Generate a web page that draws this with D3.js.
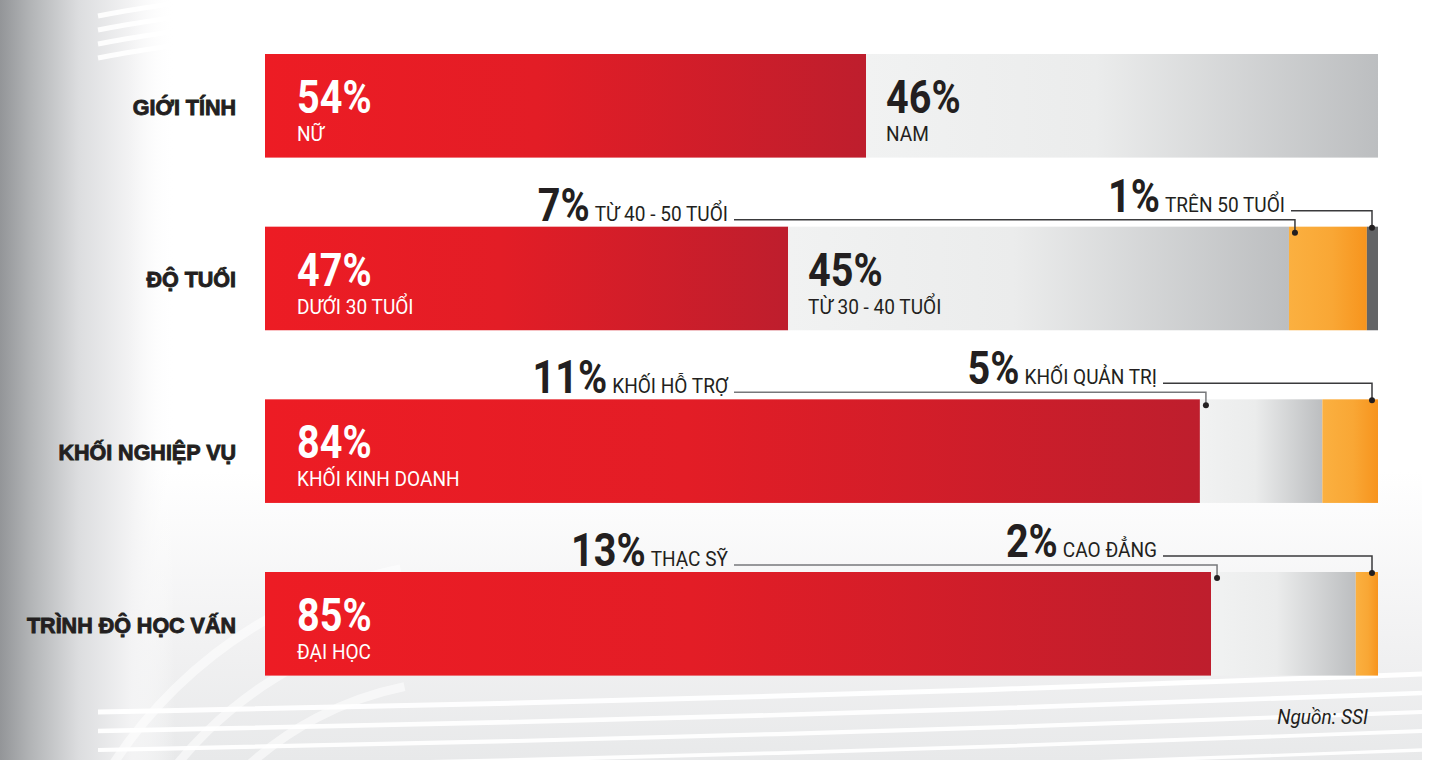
<!DOCTYPE html>
<html>
<head>
<meta charset="utf-8">
<script src="https://cdn.jsdelivr.net/npm/d3@7"></script>
<style>
  html, body { margin: 0; padding: 0; background: #ffffff; overflow: hidden; }
  svg { display: block; }
</style>
</head>
<body>
<svg id="chart" width="1438" height="760"></svg>
<script>
// ---- Data -------------------------------------------------------------
const categories = ["GIỚI TÍNH", "ĐỘ TUỔI", "KHỐI NGHIỆP VỤ", "TRÌNH ĐỘ HỌC VẤN"];

const genderValues = [54, 46];
const genderLabels = ["NỮ", "NAM"];

const ageValues = [47, 45, 7, 1];
const ageLabels = ["DƯỚI 30 TUỔI", "TỪ 30 - 40 TUỔI", "TỪ 40 - 50 TUỔI", "TRÊN 50 TUỔI"];

const deptValues = [84, 11, 5];
const deptLabels = ["KHỐI KINH DOANH", "KHỐI HỖ TRỢ", "KHỐI QUẢN TRỊ"];

const eduValues = [85, 13, 2];
const eduLabels = ["ĐẠI HỌC", "THẠC SỸ", "CAO ĐẲNG"];

const sourceNote = "Nguồn: SSI";

const rowValues = [genderValues, ageValues, deptValues, eduValues];
const rowLabels = [genderLabels, ageLabels, deptLabels, eduLabels];

// ---- Setup ------------------------------------------------------------
const W = 1438, H = 760;
const svg = d3.select("#chart");
const defs = svg.append("defs");

function hGrad(id, stops) {
  const g = defs.append("linearGradient").attr("id", id)
    .attr("x1", 0).attr("x2", 1).attr("y1", 0).attr("y2", 0);
  stops.forEach(([o, c, op]) => g.append("stop").attr("offset", o).attr("stop-color", c)
    .attr("stop-opacity", op == null ? 1 : op));
}
function vGrad(id, stops) {
  const g = defs.append("linearGradient").attr("id", id)
    .attr("x1", 0).attr("x2", 0).attr("y1", 0).attr("y2", 1);
  stops.forEach(([o, c, op]) => g.append("stop").attr("offset", o).attr("stop-color", c)
    .attr("stop-opacity", op == null ? 1 : op));
}

hGrad("gRed", [[0, "#ed1c24"], [0.45, "#e31d26"], [1, "#be1e2d"]]);
hGrad("gGray", [[0, "#f1f2f2"], [0.45, "#ebecec"], [1, "#bcbec0"]]);
hGrad("gOrange", [[0, "#fbb040"], [0.55, "#f9a735"], [1, "#f7941d"]]);
hGrad("gLeft", [[0, "#939598"], [0.18, "#b3b5b7"], [0.45, "#dcdddf"], [0.75, "#f3f3f4"], [1, "#ffffff", 0]]);
vGrad("gPanel", [[0, "#ffffff"], [0.62, "#ffffff"], [0.85, "#f1f1f2"], [1, "#e8e9ea"]]);

const segFill = ["url(#gRed)", "url(#gGray)", "url(#gOrange)", "#636466"];
const segText = ["#ffffff", "#231f20", "#231f20", "#231f20"];

// ---- Background -------------------------------------------------------
const bg = svg.append("g");
bg.append("rect").attr("width", W).attr("height", H).attr("fill", "#ffffff");
bg.append("rect").attr("x", 98).attr("y", 0).attr("width", 1324).attr("height", H)
  .attr("fill", "url(#gPanel)");
bg.append("rect").attr("x", 0).attr("y", 0).attr("width", 175).attr("height", H)
  .attr("fill", "url(#gLeft)");

// soft white sweeping strokes across the panel
const swoosh = bg.append("g").attr("fill", "none").attr("stroke", "#ffffff")
  .attr("stroke-linecap", "butt");
const sweepLine = d3.line().curve(d3.curveBasis);
[0, 1, 2, 3, 4].forEach(i => {
  const y0 = 698 + i * 19;
  swoosh.append("path")
    .attr("d", sweepLine([[98, y0 + 14], [500, y0 + 6], [1000, y0 - 8], [1422, y0 - 24]]))
    .attr("stroke-width", 5 - i * 0.4).attr("opacity", 0.95);
});
[0, 1, 2, 3].forEach(i => {
  const y0 = 8 + i * 14;
  swoosh.append("path")
    .attr("d", sweepLine([[98, y0 + 8], [130, y0 + 2], [170, y0 - 4]]))
    .attr("stroke-width", 5).attr("opacity", 0.9);
});
[0, 1, 2].forEach(i => {
  const r = 330 + i * 60;
  swoosh.append("path")
    .attr("d", d3.arc().innerRadius(r).outerRadius(r).startAngle(-1.35).endAngle(-0.2)())
    .attr("transform", "translate(" + (470 + i * 10) + ",1010)")
    .attr("stroke-width", 9).attr("opacity", 0.55);
});

// ---- Scales -----------------------------------------------------------
const x = d3.scaleLinear().domain([0, 100]).range([265, 1378]);
const y = d3.scaleBand().domain(categories).range([54, 675.6]).paddingInner(0.4).paddingOuter(0);

// condensed face: big figures and small captions get their own squeeze
const BIG = { size: 46, sx: 0.86 };
const SMALL = { size: 20.5, sx: 0.93 };
const condFamily = "Roboto, 'Liberation Sans', Arial, sans-serif";

function condText(g, px, py, str, style, weight, fill, anchor, italic) {
  const t = g.append("text")
    .attr("transform", "translate(" + px + "," + py + ") scale(" + style.sx + ",1)")
    .attr("font-family", condFamily)
    .attr("font-size", style.size)
    .attr("font-weight", weight)
    .attr("font-style", italic ? "italic" : "normal")
    .attr("fill", fill)
    .attr("text-anchor", anchor || "start")
    .text(str);
  t.node().__sx = style.sx;
  return t;
}
function widthOf(t) { return t.node().getComputedTextLength() * t.node().__sx; }

// ---- Rows -------------------------------------------------------------
const chart = svg.append("g");
const leftCalloutEnd = 728;
const rightCalloutEnd = { 1: 1285, 2: 1157, 3: 1157 };

categories.forEach((cat, ri) => {
  const vals = rowValues[ri];
  const labs = rowLabels[ri];
  const top = y(cat);
  const bh = y.bandwidth();

  let acc = 0;
  const segs = vals.map((v, i) => {
    const s = { v, label: labs[i], i, x0: x(acc), x1: x(acc + v) };
    acc += v;
    return s;
  });

  const g = chart.append("g");

  // category label
  g.append("text")
    .attr("x", 236).attr("y", top + bh / 2 + 9)
    .attr("text-anchor", "end")
    .attr("font-family", "'Liberation Sans', Arial, sans-serif")
    .attr("font-weight", 700).attr("font-size", 21.5)
    .attr("fill", "#231f20")
    .attr("stroke", "#231f20").attr("stroke-width", 0.9)
    .text(cat);

  // stacked segments
  g.selectAll("rect.seg").data(segs).join("rect")
    .attr("class", "seg")
    .attr("x", d => d.x0).attr("y", top)
    .attr("width", d => Math.max(0, d.x1 - d.x0)).attr("height", bh)
    .attr("fill", d => segFill[d.i]);

  // labels inside the wide segments
  segs.filter(d => d.v >= 20).forEach(d => {
    const px = d.x0 + (d.i === 0 ? 32 : 20);
    condText(g, px, top + 59, d.v + "%", BIG, 700, segText[d.i]);
    condText(g, px, top + 87, d.label, SMALL, 400, segText[d.i]);
  });

  // callouts for the narrow segments
  const small = segs.filter(d => d.v < 20);
  small.forEach((d, k) => {
    const isLeft = k === 0 && small.length > 1;
    const endX = isLeft ? leftCalloutEnd : rightCalloutEnd[ri];
    const base = isLeft ? top - 6 : top - 15;
    const lineY = base - 1;
    const dotX = isLeft ? d.x0 + 6 : d.x1 - 6;
    const dotY = isLeft ? top + 6 : top + 1;

    const name = condText(g, endX, base, d.label, SMALL, 400, "#231f20", "end");
    const nw = widthOf(name);
    condText(g, endX - nw - 5, base, d.v + "%", BIG, 700, "#231f20", "end");

    g.append("path")
      .attr("d", "M" + (endX + 6) + "," + lineY + "H" + dotX + "V" + dotY)
      .attr("fill", "none").attr("stroke", isLeft && ri > 1 ? "#77787b" : "#3a3a3c")
      .attr("stroke-width", 1.5);
    g.append("circle").attr("cx", dotX).attr("cy", dotY).attr("r", 3)
      .attr("fill", "#231f20");
  });
});

// ---- Source note ------------------------------------------------------
condText(svg, 1368, 724, sourceNote, SMALL, 400, "#231f20", "end", true);
</script>
</body>
</html>
